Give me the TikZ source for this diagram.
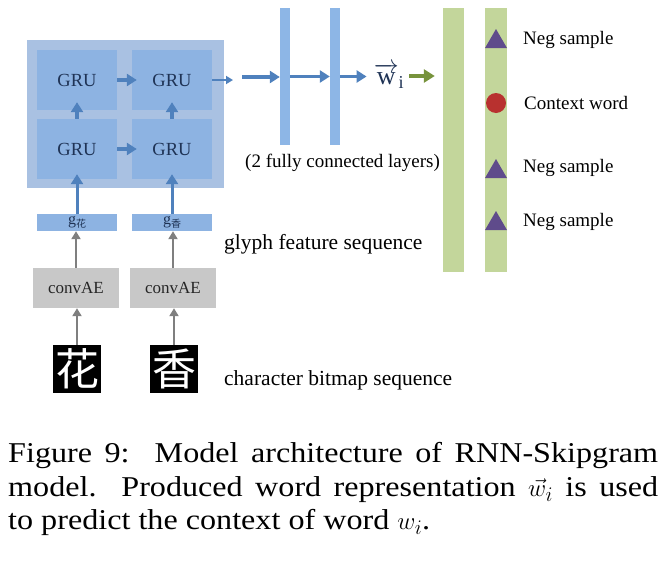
\documentclass[tikz,border=0pt]{standalone}
\usepackage{amsmath}
\usepackage{fontspec}
\setmainfont{Liberation Serif}
\newfontfamily\capfont{Liberation Serif}[FakeStretch=1.12]
\newfontfamily\cjk{Noto Sans CJK SC}
\usetikzlibrary{arrows.meta,shapes.geometric}

\definecolor{outerblue}{HTML}{A9C1E2}
\definecolor{grublue}{HTML}{8DB3E2}
\definecolor{fcblue}{HTML}{8DB6E6}
\definecolor{arrowblue}{HTML}{4F81BD}
\definecolor{textnavy}{HTML}{1F3355}
\definecolor{ctxgreen}{HTML}{C3D69B}
\definecolor{arrowgreen}{HTML}{77933C}
\definecolor{negpurple}{HTML}{5F4B8B}
\definecolor{ctxred}{HTML}{B8312F}
\definecolor{aegray}{HTML}{C8C8C8}
\definecolor{arrowgray}{HTML}{7F7F7F}

\begin{document}
\begin{tikzpicture}[x=1pt,y=-1pt]
\tikzstyle{every node}+=[inner sep=0pt]
\tikzstyle{grubox}=[fill=grublue,minimum width=80pt,minimum height=60pt,text=textnavy,font=\fontsize{18.5}{20}\selectfont]
\tikzstyle{gbox}=[fill=grublue,minimum width=80pt,minimum height=17pt,text=textnavy,font=\fontsize{16}{16}\selectfont]
\tikzstyle{aebox}=[fill=aegray,minimum width=86pt,minimum height=40pt,text=black!85,font=\fontsize{17}{18}\selectfont]
\tikzstyle{bitmap}=[fill=black,text=white,minimum size=48pt,font=\cjk\fontsize{44}{44}\selectfont]
\tikzstyle{fcbar}=[fill=fcblue,minimum width=10pt,minimum height=137pt]
\tikzstyle{ctxbar}=[fill=ctxgreen,minimum width=21pt,minimum height=264pt]
\tikzstyle{negmark}=[regular polygon,regular polygon sides=3,fill=negpurple,minimum size=25.4pt]
\tikzstyle{ctxmark}=[circle,fill=ctxred,minimum size=20pt]
\tikzstyle{lbl}=[anchor=west,font=\fontsize{19}{20}\selectfont]
\tikzstyle{biglbl}=[anchor=west,font=\fontsize{21.5}{22}\selectfont]
\tikzstyle{bluearrow}=[draw=arrowblue,line width=3.5pt,-{Triangle[length=10pt,width=12pt]}]
\tikzstyle{thinarrow}=[draw=arrowblue,line width=2pt,-{Triangle[length=7pt,width=8pt]}]
\tikzstyle{grayarrow}=[draw=arrowgray,line width=2.5pt,-{Triangle[length=8pt,width=9pt]}]
\tikzstyle{greenarrow}=[draw=arrowgreen,line width=4pt,-{Triangle[length=11pt,width=13pt]}]
\useasboundingbox (0,0) rectangle (666,562);
% recurrent block
\node[fill=outerblue,minimum width=197pt,minimum height=148pt] (rnn) at (125.5,114) {};
\node[grubox] (gruTL) at (77,80) {GRU};
\node[grubox] (gruTR) at (172,80) {GRU};
\node[grubox] (gruBL) at (77,149) {GRU};
\node[grubox] (gruBR) at (172,149) {GRU};
\draw[bluearrow,shorten >=-5pt] (gruTL.east) -- (gruTR.west);
\draw[bluearrow,shorten >=-5pt] (gruBL.east) -- (gruBR.west);
\draw[bluearrow] (gruBL.north) -- ([yshift=8pt]gruTL.south);
\draw[bluearrow] (gruBR.north) -- ([yshift=8pt]gruTR.south);
% glyph features and autoencoders
\node[gbox] (gA) at (77,222.5) {g\raisebox{-3pt}{\cjk\fontsize{10}{10}\selectfont 花}};
\node[gbox] (gB) at (172,222.5) {g\raisebox{-3pt}{\cjk\fontsize{10}{10}\selectfont 香}};
\node[aebox] (aeA) at (76,288) {convAE};
\node[aebox] (aeB) at (173,288) {convAE};
\node[bitmap] (bmA) at (77,369) {花};
\node[bitmap] (bmB) at (174,369) {香};
\draw[bluearrow,line width=3pt] (gA.north) -- ([yshift=5pt]gruBL.south);
\draw[bluearrow,line width=3pt] (gB.north) -- ([yshift=5pt]gruBR.south);
\draw[grayarrow] (aeA.north) -- (aeA.north |- gA.south);
\draw[grayarrow] (aeB.north) -- (aeB.north |- gB.south);
\draw[grayarrow] (bmA.north) -- (bmA.north |- aeA.south);
\draw[grayarrow] (bmB.north) -- (bmB.north |- aeB.south);
% fully connected layers
\node[fcbar] (fc1) at (285,76.5) {};
\node[fcbar] (fc2) at (335,76.5) {};
\node[text=textnavy,font=\fontsize{26}{26}\selectfont] (wi) at (389,76) {$\overrightarrow{\text{w}}_{\text{i}}$};
\coordinate (outtip) at (233,80);
\coordinate (fcin) at (242,77);
\draw[thinarrow] (gruTR.east) -- (outtip);
\draw[bluearrow] (fcin) -- (fcin -| fc1.west);
\draw[bluearrow] (fc1.east) -- (fc2.west);
\draw[bluearrow,shorten >=7pt] (fc2.east) -- (fc2.east -| wi.west);
% skipgram output
\node[ctxbar] (ctxA) at (453.5,140) {};
\node[ctxbar,minimum width=22pt] (ctxB) at (496,140) {};
\draw[greenarrow,shorten <=5pt,shorten >=8pt] (wi.east) -- (wi.east -| ctxA.west);
\node[negmark] (neg1) at (496,41.7) {};
\node[ctxmark] (ctx) at (496,103) {};
\node[negmark] (neg2) at (496,171.7) {};
\node[negmark] (neg3) at (496,223.7) {};
\node[lbl] (negl1) at (523,40) {Neg sample};
\node[lbl] (ctxl) at (524,103) {Context word};
\node[lbl] (negl2) at (523,168) {Neg sample};
\node[lbl] (negl3) at (523,222) {Neg sample};
% labels
\node[lbl] (fclbl) at (245,163) {(2 fully connected layers)};
\node[biglbl] (glyphlbl) at (224,244) {glyph feature sequence};
\node[biglbl] (bitmaplbl) at (224,380) {character bitmap sequence};
% caption
\node[anchor=north west,text width=650pt,align=justify,font=\capfont\fontsize{28.7}{33.5}\selectfont] (caption) at (8,442.4)
  {Figure 9:\ \ Model architecture of RNN-Skipgram\linebreak model.\ \ Produced word representation $\vec{w}_i$ is used\linebreak to predict the context of word $w_i$.};
\end{tikzpicture}
\end{document}
